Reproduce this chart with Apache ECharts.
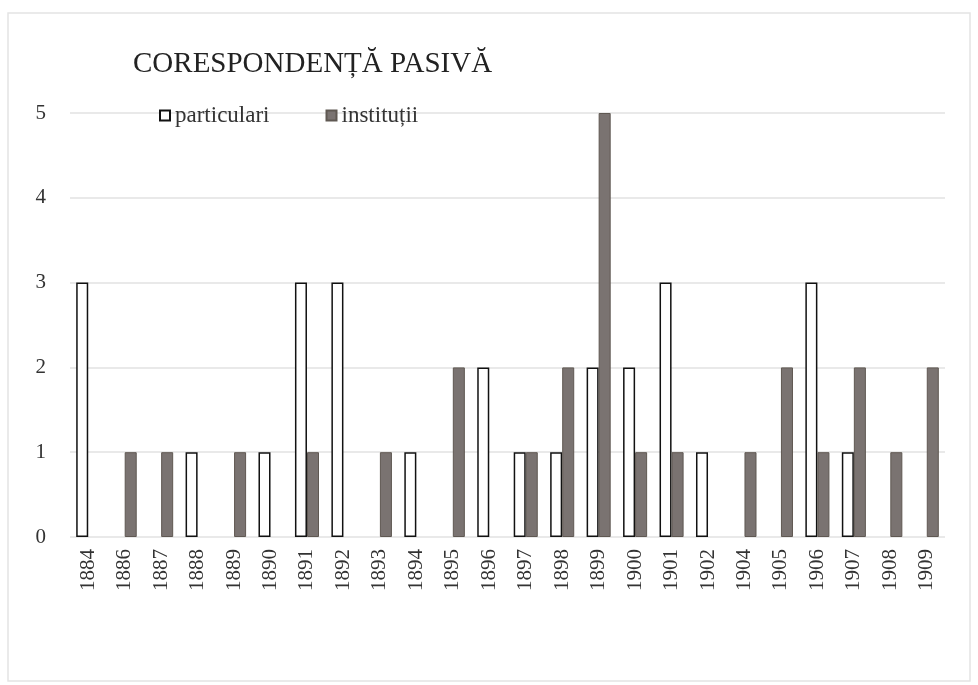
<!DOCTYPE html>
<html><head><meta charset="utf-8">
<script src="https://cdn.jsdelivr.net/npm/echarts@6/dist/echarts.min.js"></script>
<style>html,body{margin:0;padding:0;background:#fff}#c{width:978px;height:685px}</style>
</head><body><div id="c"></div>
<script>
const years = ['1884','1886','1887','1888','1889','1890','1891','1892','1893','1894','1895','1896','1897','1898','1899','1900','1901','1902','1904','1905','1906','1907','1908','1909'];
const particulari = [3,0,0,1,0,1,3,3,0,1,0,2,1,1,2,2,3,1,0,0,3,1,0,0];
const institutii = [0,1,1,0,1,0,1,0,1,0,2,0,1,2,5,1,1,0,1,2,1,2,1,2];
const yTicks = [0,1,2,3,4,5];

const font = '"Liberation Serif", "DejaVu Serif", serif';
// zero-valued bars are not drawn (no border line at the baseline)
const noZero = arr => arr.map(v => v === 0 ? {value: 0, itemStyle: {borderWidth: 0, opacity: 0}} : v);

const chart = echarts.init(document.getElementById('c'));
chart.setOption({
  backgroundColor: '#fff',
  animation: false,
  graphic: [{type:'rect', shape:{x:8,y:13,width:962,height:668}, style:{fill:'none', stroke:'#e4e4e4', lineWidth:1.5}, silent:true}],
  title: {text:'CORESPONDENȚĂ PASIVĂ', left:128, top:45, textStyle:{fontFamily:font, fontSize:29, fontWeight:'normal', color:'#222'}},
  legend: {left:154, top:99, itemWidth:10, itemHeight:10, itemGap:56, icon:'rect',
    textStyle:{fontFamily:font, fontSize:23, color:'#333', padding:[0,0,0,0]},
    data:['particulari','instituții']},
  grid: {left:70, right:33, top:113, bottom:148},
  xAxis: {type:'category', data:years,
    axisLine:{show:false}, axisTick:{show:false},
    axisLabel:{rotate:90, fontFamily:font, fontSize:21, color:'#333', margin:12}},
  yAxis: {type:'value', min:yTicks[0], max:yTicks[yTicks.length-1], interval:1,
    axisLine:{show:false}, axisTick:{show:false},
    axisLabel:{fontFamily:font, fontSize:21, color:'#333', margin:24},
    splitLine:{lineStyle:{color:'#e2e2e2', width:1.5}}},
  series: [
    {name:'particulari', type:'bar', data:noZero(particulari), barGap:'0%', barCategoryGap:'34%',
      itemStyle:{color:'#ffffff', borderColor:'#111', borderWidth:1.5}},
    {name:'instituții', type:'bar', data:noZero(institutii),
      itemStyle:{color:'#7a7371', borderColor:'#5f5852', borderWidth:1}}
  ]
});
</script></body></html>
